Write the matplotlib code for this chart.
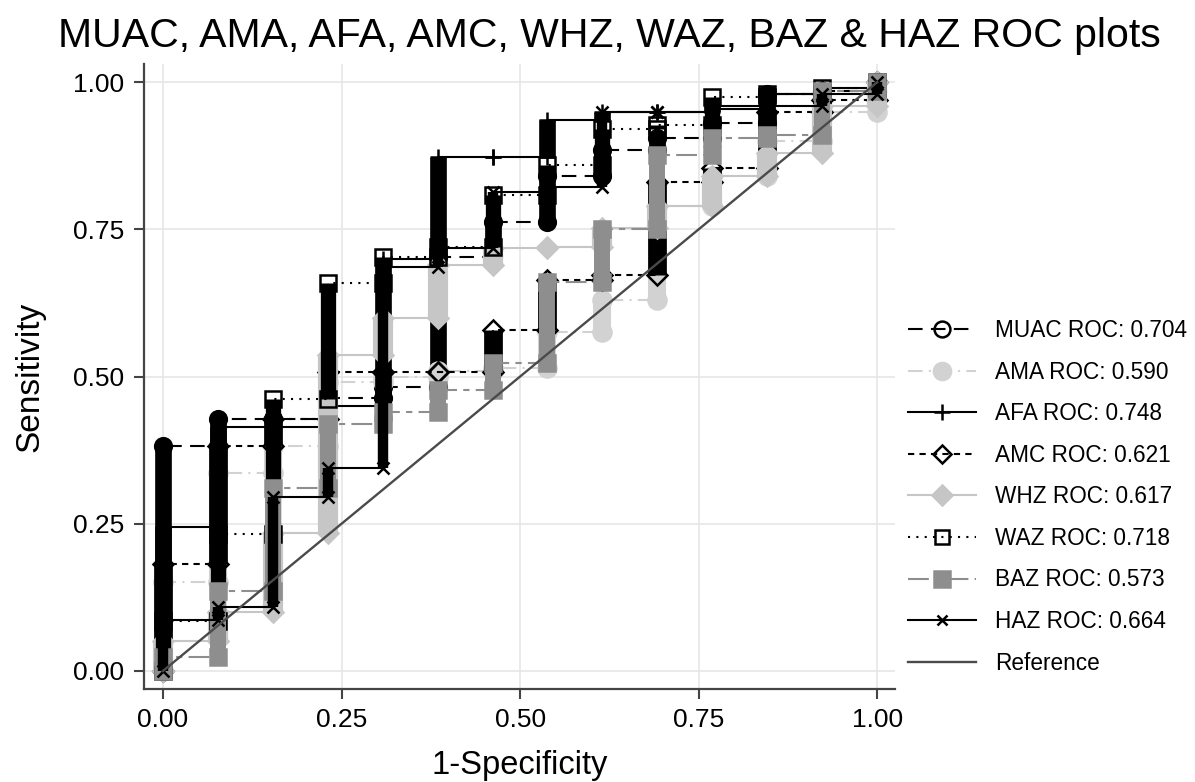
import matplotlib
matplotlib.use("Agg")
import matplotlib.pyplot as plt
from matplotlib.lines import Line2D

plt.rcParams['font.family'] = ['Liberation Sans', 'DejaVu Sans']

# 1-specificity levels (13 non-cases)
one_minus_spec = [0.000, 0.077, 0.154, 0.231, 0.308, 0.385, 0.462,
                  0.538, 0.615, 0.692, 0.769, 0.846, 0.923, 1.000]

# sensitivity reached at the top of each 1-specificity level
muac_sens = [0.382, 0.428, 0.428, 0.463, 0.482, 0.703, 0.762, 0.840, 0.885, 0.905, 0.930, 0.980, 0.985, 1.0]
ama_sens  = [0.151, 0.336, 0.382, 0.490, 0.500, 0.510, 0.515, 0.575, 0.630, 0.790, 0.840, 0.900, 0.950, 1.0]
afa_sens  = [0.245, 0.414, 0.414, 0.450, 0.700, 0.873, 0.873, 0.935, 0.949, 0.949, 0.960, 0.980, 0.990, 1.0]
amc_sens  = [0.182, 0.382, 0.428, 0.508, 0.508, 0.508, 0.579, 0.664, 0.672, 0.830, 0.854, 0.950, 0.970, 1.0]
whz_sens  = [0.050, 0.100, 0.235, 0.536, 0.600, 0.690, 0.718, 0.720, 0.752, 0.790, 0.840, 0.880, 0.960, 1.0]
waz_sens  = [0.085, 0.233, 0.462, 0.659, 0.703, 0.720, 0.808, 0.859, 0.920, 0.927, 0.975, 0.980, 0.990, 1.0]
baz_sens  = [0.024, 0.136, 0.310, 0.419, 0.440, 0.477, 0.523, 0.660, 0.750, 0.876, 0.905, 0.910, 0.985, 1.0]
haz_sens  = [0.087, 0.109, 0.295, 0.345, 0.686, 0.718, 0.813, 0.822, 0.949, 0.949, 0.955, 0.960, 0.980, 1.0]

labels = ["MUAC ROC: 0.704", "AMA ROC: 0.590", "AFA ROC: 0.748", "AMC ROC: 0.621",
          "WHZ ROC: 0.617", "WAZ ROC: 0.718", "BAZ ROC: 0.573", "HAZ ROC: 0.664"]
ref_label = "Reference"

LG = "#d2d2d2"   # light gray
WG = "#c6c6c6"
MG = "#8e8e8e"   # medium gray
BK = "#000000"

styles = [
    # color, linestyle, marker, ms, mfc, col_width, capstyle
    dict(c=BK, ls=(0, (7, 4)), m='o', ms=12, mfc='none', cw=12, cap='round'),
    dict(c=LG, ls=(0, (7, 3, 1, 3)), m='o', ms=13, mfc=LG, cw=13, cap='round'),
    dict(c=BK, ls='-', m='+', ms=12, mfc=BK, cw=12, cap='butt'),
    dict(c=BK, ls=(0, (3, 2.5)), m='D', ms=10, mfc='none', cw=13.5, cap='butt'),
    dict(c=WG, ls='-', m='D', ms=10.5, mfc=WG, cw=14.5, cap='butt'),
    dict(c=BK, ls=(0, (1, 3)), m='s', ms=11, mfc='none', cw=11, cap='butt'),
    dict(c=MG, ls=(0, (10, 3, 3, 3)), m='s', ms=11.5, mfc=MG, cw=11.5, cap='butt'),
    dict(c=BK, ls='-', m='x', ms=8, mfc=BK, cw=7.5, cap='butt'),
]
series = [muac_sens, ama_sens, afa_sens, amc_sens, whz_sens, waz_sens, baz_sens, haz_sens]

fig = plt.figure(figsize=(11.95, 7.82), dpi=100)
ax = fig.add_axes([0.1205, 0.119, 0.6285, 0.799])

for k, (sens, st) in enumerate(zip(series, styles)):
    z = 3 + k * 0.1
    xs, ys = [0.0], [0.0]
    prev = 0.0
    for x, s in zip(one_minus_spec, sens):
        if xs[-1] != x:
            xs.append(x); ys.append(prev)
        xs.append(x); ys.append(s)
        if s > prev:
            ax.plot([x, x], [prev, s], color=st['c'], lw=st['cw'],
                    solid_capstyle=st['cap'], zorder=z)
        prev = s
    ax.plot(xs, ys, color=st['c'], ls=st['ls'], lw=1.5, zorder=z + 0.01)
    ax.plot(xs, ys, ls='none', marker=st['m'], ms=st['ms'], mfc=st['mfc'],
            mec=st['c'], mew=1.8, zorder=z + 0.02)

ax.plot([0, 1], [0, 1], color="#4a4a4a", lw=1.7, zorder=5)

ax.set_xlim(-0.0266, 1.025)
ax.set_ylim(-0.0306, 1.0306)
ticks = [0, 0.25, 0.5, 0.75, 1.0]
ax.set_xticks(ticks)
ax.set_yticks(ticks)
ax.set_xticklabels(["0.00", "0.25", "0.50", "0.75", "1.00"])
ax.set_yticklabels(["0.00", "0.25", "0.50", "0.75", "1.00"])
ax.tick_params(labelsize=19, length=7, width=1.5, color="#444444", pad=7)
ax.grid(True, color="#e6e6e6", lw=1.2, zorder=0)
ax.set_axisbelow(True)
for sp in ['top', 'right']:
    ax.spines[sp].set_visible(False)
for sp in ['left', 'bottom']:
    ax.spines[sp].set_color("#444444")
    ax.spines[sp].set_linewidth(1.6)
ax.set_xlabel("1-Specificity", fontsize=23.5, labelpad=13)
ax.set_ylabel("Sensitivity", fontsize=24, labelpad=20)

fig.text(0.51, 0.954, "MUAC, AMA, AFA, AMC, WHZ, WAZ, BAZ & HAZ ROC plots",
         ha='center', va='center', fontsize=29.5)

handles = []
for st in styles:
    handles.append(Line2D([], [], color=st['c'], ls=st['ls'], lw=1.5, marker=st['m'],
                          ms=st['ms'] * 0.95, mfc=st['mfc'], mec=st['c'], mew=1.8))
handles.append(Line2D([], [], color="#4a4a4a", lw=1.7))
fig.legend(handles, labels + [ref_label], loc='upper left',
           bbox_to_anchor=(0.760, 0.592), frameon=False, fontsize=16.3,
           handlelength=3.0, handletextpad=0.85, labelspacing=0.82,
           borderpad=0, borderaxespad=0, numpoints=1)

fig.savefig("out.png", dpi=100)
